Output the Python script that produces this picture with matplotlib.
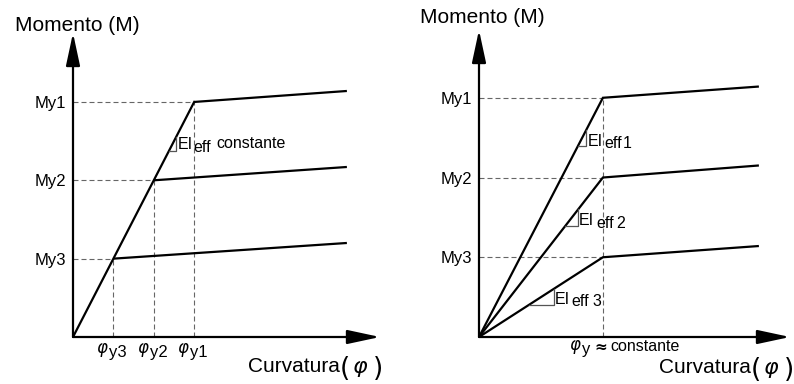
import numpy as np
import matplotlib
matplotlib.use('Agg')
import matplotlib.pyplot as plt

plt.rcParams['font.family'] = ['Liberation Sans', 'DejaVu Sans']

# Left panel: same stiffness, yield curvature changes
phi_y_left = [1.0, 2.0, 3.0]          # phi_y3, phi_y2, phi_y1
My_left = [1.0, 2.0, 3.0]             # My3, My2, My1
phi_end_left = 6.78
M_end_left = [1.20, 2.17, 3.14]
phi_labels_left = ['y3', 'y2', 'y1']
M_labels = ['My3', 'My2', 'My1']

# Right panel: same yield curvature, stiffness changes
phi_y_right = 3.0
My_right = [1.0, 2.0, 3.0]
phi_end_right = 6.75
M_end_right = [1.14, 2.15, 3.14]

W, H = 794, 384
fig = plt.figure(figsize=(W / 100, H / 100), dpi=100)

main_lw = 1.6
dash_col = '#666666'
tri_col = '#555555'


def px_text(x, y, s, **kw):
    # x, y in pixels from the top-left corner, y is the baseline
    fig.text(x / W, 1 - y / H, s, ha='left', va='baseline', **kw)


def setup_axes(ax, xmax, ymax):
    ax.set_xlim(0, xmax)
    ax.set_ylim(0, ymax)
    for s in ax.spines.values():
        s.set_visible(False)
    ax.patch.set_visible(False)
    arrow = dict(arrowstyle='-|>,head_length=20,head_width=4.3', mutation_scale=1,
                 color='black', lw=1.6, shrinkA=0, shrinkB=0)
    ax.annotate('', xy=(xmax, 0), xytext=(0, 0), arrowprops=arrow, annotation_clip=False)
    ax.annotate('', xy=(0, ymax), xytext=(0, 0), arrowprops=arrow, annotation_clip=False)
    ax.tick_params(length=0, labelsize=12, pad=5)
    ax.set_xticks([])


def dashed(ax, xs, ys):
    ax.plot(xs, ys, color=dash_col, lw=0.8, dashes=(4.5, 2.7), clip_on=False)


def slope_mark(ax, x1, x2, s):
    ax.plot([x1, x2, x2], [s * x1, s * x1, s * x2], color=tri_col, lw=0.9, clip_on=False)


def note(ax, xy, s, off, fs=11.5, **kw):
    ax.annotate(s, xy=xy, xytext=off, textcoords='offset pixels', fontsize=fs,
                ha='left', va='baseline', annotation_clip=False, **kw)


def curvatura(x, y):
    px_text(x, y, 'Curvatura', fontsize=15)
    px_text(x + 92, y + 4, '(', fontsize=19, family='DejaVu Sans')
    px_text(x + 104, y + 1, '$\\varphi$', fontsize=16)
    px_text(x + 125, y + 4, ')', fontsize=19, family='DejaVu Sans')


# ---------------- left panel ----------------
axL = fig.add_axes([73 / W, 47 / H, 307 / W, 304 / H])
setup_axes(axL, 7.6, 3.88)
for px, my in zip(phi_y_left, My_left):
    dashed(axL, [0, px], [my, my])
    dashed(axL, [px, px], [0, my])
for px, my, me in zip(phi_y_left, My_left, M_end_left):
    axL.plot([px, phi_end_left], [my, me], color='black', lw=main_lw, solid_capstyle='butt')
axL.plot([0, phi_y_left[-1]], [0, My_left[-1]], color='black', lw=main_lw)
axL.set_yticks(My_left, M_labels)
for px, lab in zip(phi_y_left, phi_labels_left):
    note(axL, (px, 0), '$\\varphi$', (-17, -16), fs=12)
    note(axL, (px, 0), lab, (-4, -20), fs=12)

sL = My_left[-1] / phi_y_left[-1]
slope_mark(axL, 2.38, 2.55, sL)
cL = (2.55, 2.38 * sL)
note(axL, cL, 'EI', (2, 2))
note(axL, cL, 'eff', (17, -1))
note(axL, cL, 'constante', (40, 3))

px_text(15, 31, 'Momento (M)', fontsize=15)
curvatura(248, 372)

# ---------------- right panel ----------------
axR = fig.add_axes([479 / W, 47 / H, 311 / W, 307 / H])
setup_axes(axR, 7.53, 3.85)
for my in My_right:
    dashed(axR, [0, phi_y_right], [my, my])
dashed(axR, [phi_y_right, phi_y_right], [0, max(My_right)])
for my, me in zip(My_right, M_end_right):
    axR.plot([0, phi_y_right, phi_end_right], [0, my, me], color='black', lw=main_lw,
             solid_joinstyle='miter')
axR.set_yticks(My_right, M_labels)

tri_right = [(1.20, 1.82), (2.09, 2.40), (2.40, 2.59)]
lab_offs = [[(1, 1), (17, -1), (38, -1)],
            [(1, 1), (18, -2), (38, -2)],
            [(2, 0), (18, -2), (37, -2)]]
for (x1, x2), my, offs, k in zip(tri_right, My_right, lab_offs, ['3', '2', '1']):
    s = my / phi_y_right
    slope_mark(axR, x1, x2, s)
    c = (x2, s * x1)
    note(axR, c, 'EI', offs[0])
    note(axR, c, 'eff', offs[1])
    note(axR, c, k, offs[2])

cR = (phi_y_right, 0)
note(axR, cR, '$\\varphi$', (-34, -13), fs=12)
note(axR, cR, 'y', (-21, -17), fs=12)
note(axR, cR, '\u2248', (-9, -15), fs=11, family='DejaVu Sans', weight='bold')
note(axR, cR, 'constante', (7, -14), fs=11.5)

px_text(420, 23, 'Momento (M)', fontsize=15)
curvatura(659, 373)

fig.savefig('out.png', dpi=100)
